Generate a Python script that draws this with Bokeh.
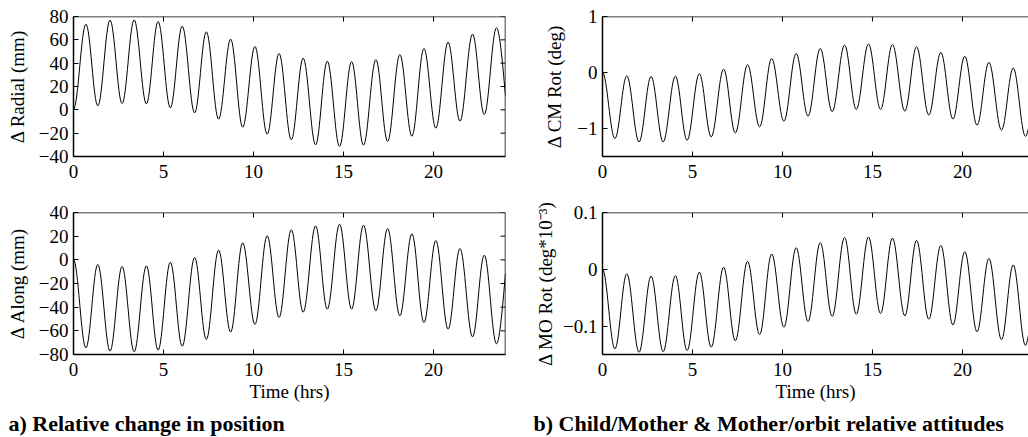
from bokeh.plotting import figure
from bokeh.layouts import column, row
from bokeh.models import (Range1d, FixedTicker, Title, ColumnDataSource,
                          CustomJSTickFormatter, Span)
from bokeh.embed import file_html
from bokeh.resources import INLINE

# ---- data (extrema of each oscillation) ----
t_left = [0, 0.69, 1.35, 2.03, 2.70, 3.37, 4.05, 4.70, 5.38, 6.04, 6.73, 7.38, 8.06, 8.73,
          9.40, 10.08, 10.76, 11.42, 12.10, 12.76, 13.45, 14.10, 14.78, 15.45, 16.11, 16.80,
          17.45, 18.13, 18.80, 19.47, 20.13, 20.81, 21.47, 22.17, 22.82, 23.50, 24.0]
t_right = [0, 0.69, 1.35, 2.03, 2.70, 3.37, 4.05, 4.70, 5.38, 6.04, 6.73, 7.38, 8.06, 8.73,
           9.40, 10.08, 10.76, 11.42, 12.10, 12.76, 13.45, 14.10, 14.78, 15.45, 16.11, 16.80,
           17.45, 18.13, 18.80, 19.47, 20.13, 20.81, 21.47, 22.17, 22.82, 23.50, 23.70]

radial = [0.5, 73.4, 3.4, 76.9, 5.4, 77.1, 5.1, 75.7, 1.7, 71.7, -2.6, 66.9, -8, 60.6, -14.9,
          54.3, -20.9, 48.3, -25.7, 44.3, -30, 41.7, -31.4, 41.4, -30.3, 43.1, -27.1, 47.4,
          -22.6, 52.6, -15.7, 58, -9.7, 64.9, -4, 70.3, 12]
along = [0, -74.4, -3.9, -77.2, -5.6, -77.7, -5.1, -76.3, -2, -73, 2, -67.3, 8.2, -61.1, 14.4,
         -54.6, 20.3, -48.7, 25.4, -44.2, 28.7, -41.7, 30.1, -41.7, 29.3, -43.1, 26.5, -47.3,
         22, -53, 16.3, -58.6, 9.6, -65.1, 3.9, -71, -11.5]
cm_rot = [0, -1.18, -0.06, -1.24, -0.07, -1.24, -0.065, -1.21, -0.02, -1.15, 0.06, -1.08, 0.14,
          -0.97, 0.25, -0.87, 0.34, -0.78, 0.43, -0.70, 0.49, -0.66, 0.51, -0.66, 0.50, -0.69,
          0.46, -0.76, 0.36, -0.83, 0.29, -0.94, 0.18, -1.03, 0.08, -1.14, -0.95]
mo_rot = [0, -0.140, -0.0077, -0.146, -0.012, -0.145, -0.011, -0.143, -0.005, -0.137, 0.0036,
          -0.126, 0.014, -0.115, 0.027, -0.102, 0.038, -0.092, 0.047, -0.083, 0.056, -0.079,
          0.057, -0.078, 0.055, -0.082, 0.051, -0.088, 0.042, -0.098, 0.031, -0.110, 0.019,
          -0.124, 0.0077, -0.134, -0.11]

x_ticks = [0, 5, 10, 15, 20]
radial_ticks = [-40, -20, 0, 20, 40, 60, 80]
along_ticks = [-80, -60, -40, -20, 0, 20, 40]
cm_ticks = [-1, 0, 1]
mo_ticks = [-0.1, 0, 0.1]

FONT = "Liberation Serif"
FS = "19px"
CAP_FS = "22px"
TICK_LEN = 5
minus_fmt = CustomJSTickFormatter(code="return (tick < 0 ? '\\u2212' : '') + Math.abs(tick).toString();")


def bezier_source(t, y):
    n = len(t)
    d = dict(x0=[], y0=[], x1=[], y1=[], cx0=[], cy0=[], cx1=[], cy1=[])
    for i in range(n - 1):
        dx = t[i + 1] - t[i]
        d["x0"].append(t[i]); d["y0"].append(y[i])
        d["x1"].append(t[i + 1]); d["y1"].append(y[i + 1])
        d["cx0"].append(t[i] + 0.3642 * dx); d["cy0"].append(y[i])
        if i + 1 < n - 1:
            d["cx1"].append(t[i + 1] - 0.3642 * dx); d["cy1"].append(y[i + 1])
        else:
            d["cx1"].append(t[i + 1] - 0.25 * dx); d["cy1"].append(y[i + 1] + 0.35 * (y[i] - y[i + 1]))
    return ColumnDataSource(d)


def style_axis(ax):
    ax.major_tick_in = TICK_LEN
    ax.major_tick_out = 0
    ax.minor_tick_in = 0
    ax.minor_tick_out = 0
    ax.axis_line_width = 1.5
    ax.axis_line_color = "black"
    ax.major_tick_line_color = "black"
    ax.major_label_text_font = FONT
    ax.major_label_text_font_size = FS
    ax.major_label_text_color = "black"
    ax.axis_label_text_font = FONT
    ax.axis_label_text_font_size = FS
    ax.axis_label_text_font_style = "normal"
    ax.axis_label_text_color = "black"


def make_panel(t, y, x_end, y_lo, y_hi, yticks, ylabel, left, fw, right, top, fh, bottom,
               right_spine, xlabel=None, ylabel_standoff=8):
    p = figure(frame_width=fw, frame_height=fh, x_range=Range1d(0, x_end),
               y_range=Range1d(y_lo, y_hi), output_backend="svg", toolbar_location=None,
               min_border_left=left, min_border_right=right, min_border_top=top,
               min_border_bottom=bottom)
    p.outline_line_color = None
    p.xgrid.visible = False
    p.ygrid.visible = False
    p.background_fill_color = "white"
    p.border_fill_color = "white"
    p.xaxis.ticker = FixedTicker(ticks=x_ticks)
    p.yaxis.ticker = FixedTicker(ticks=yticks)
    p.yaxis.formatter = minus_fmt
    style_axis(p.xaxis[0])
    style_axis(p.yaxis[0])
    p.xaxis.major_label_standoff = 8
    p.yaxis.major_label_standoff = 5
    p.yaxis.axis_label = ylabel
    p.yaxis.axis_label_standoff = ylabel_standoff
    if xlabel:
        p.xaxis.axis_label = xlabel
        p.xaxis.axis_label_standoff = 2
    # box: top spine (and right spine for the left panels) with inward ticks
    p.add_layout(Span(location=y_hi, dimension="width", line_color="black", line_width=1.5))
    dy = TICK_LEN * (y_hi - y_lo) / fh
    p.segment(x0=x_ticks, y0=[y_hi] * len(x_ticks), x1=x_ticks, y1=[y_hi - dy] * len(x_ticks),
              line_color="black", line_width=1)
    if right_spine:
        p.add_layout(Span(location=x_end, dimension="height", line_color="black", line_width=1.5))
        dx = TICK_LEN * x_end / fw
        p.segment(x0=[x_end] * len(yticks), y0=yticks, x1=[x_end - dx] * len(yticks), y1=yticks,
                  line_color="black", line_width=1)
    p.bezier(x0="x0", y0="y0", x1="x1", y1="y1", cx0="cx0", cy0="cy0", cx1="cx1", cy1="cy1",
             line_color="black", line_width=1, source=bezier_source(t, y))
    return p


p1 = make_panel(t_left, radial, 24, -40, 80, radial_ticks, "\u0394 Radial (mm)",
                73, 432, 15, 16, 140, 44, True, ylabel_standoff=8)
p2 = make_panel(t_left, along, 24, -80, 40, along_ticks, "\u0394 Along (mm)",
                73, 432, 15, 12, 142, 83, True, xlabel="Time (hrs)", ylabel_standoff=8)
p3 = make_panel(t_right, cm_rot, 23.67, -1.5, 1, cm_ticks, "\u0394 CM Rot (deg)",
                82, 426, 0, 16, 140, 44, False, ylabel_standoff=9)
p4 = make_panel(t_right, mo_rot, 23.67, -0.15, 0.1, mo_ticks, "\u0394 MO Rot (deg*10\u207b\u00b3)",
                82, 426, 0, 12, 142, 83, False, xlabel="Time (hrs)", ylabel_standoff=4)

cap_a = Title(text="a) Relative change in position", align="left", text_font=FONT,
              text_font_size=CAP_FS, text_font_style="bold", text_color="black",
              offset=-65, standoff=8)
p2.add_layout(cap_a, "below")
cap_b = Title(text="b) Child/Mother & Mother/orbit relative attitudes", align="left",
              text_font=FONT, text_font_size=CAP_FS, text_font_style="bold", text_color="black",
              offset=-69, standoff=8)
p4.add_layout(cap_b, "below")

layout = column(row(p1, p3), row(p2, p4))
open("out.html", "w").write(file_html(layout, INLINE))
